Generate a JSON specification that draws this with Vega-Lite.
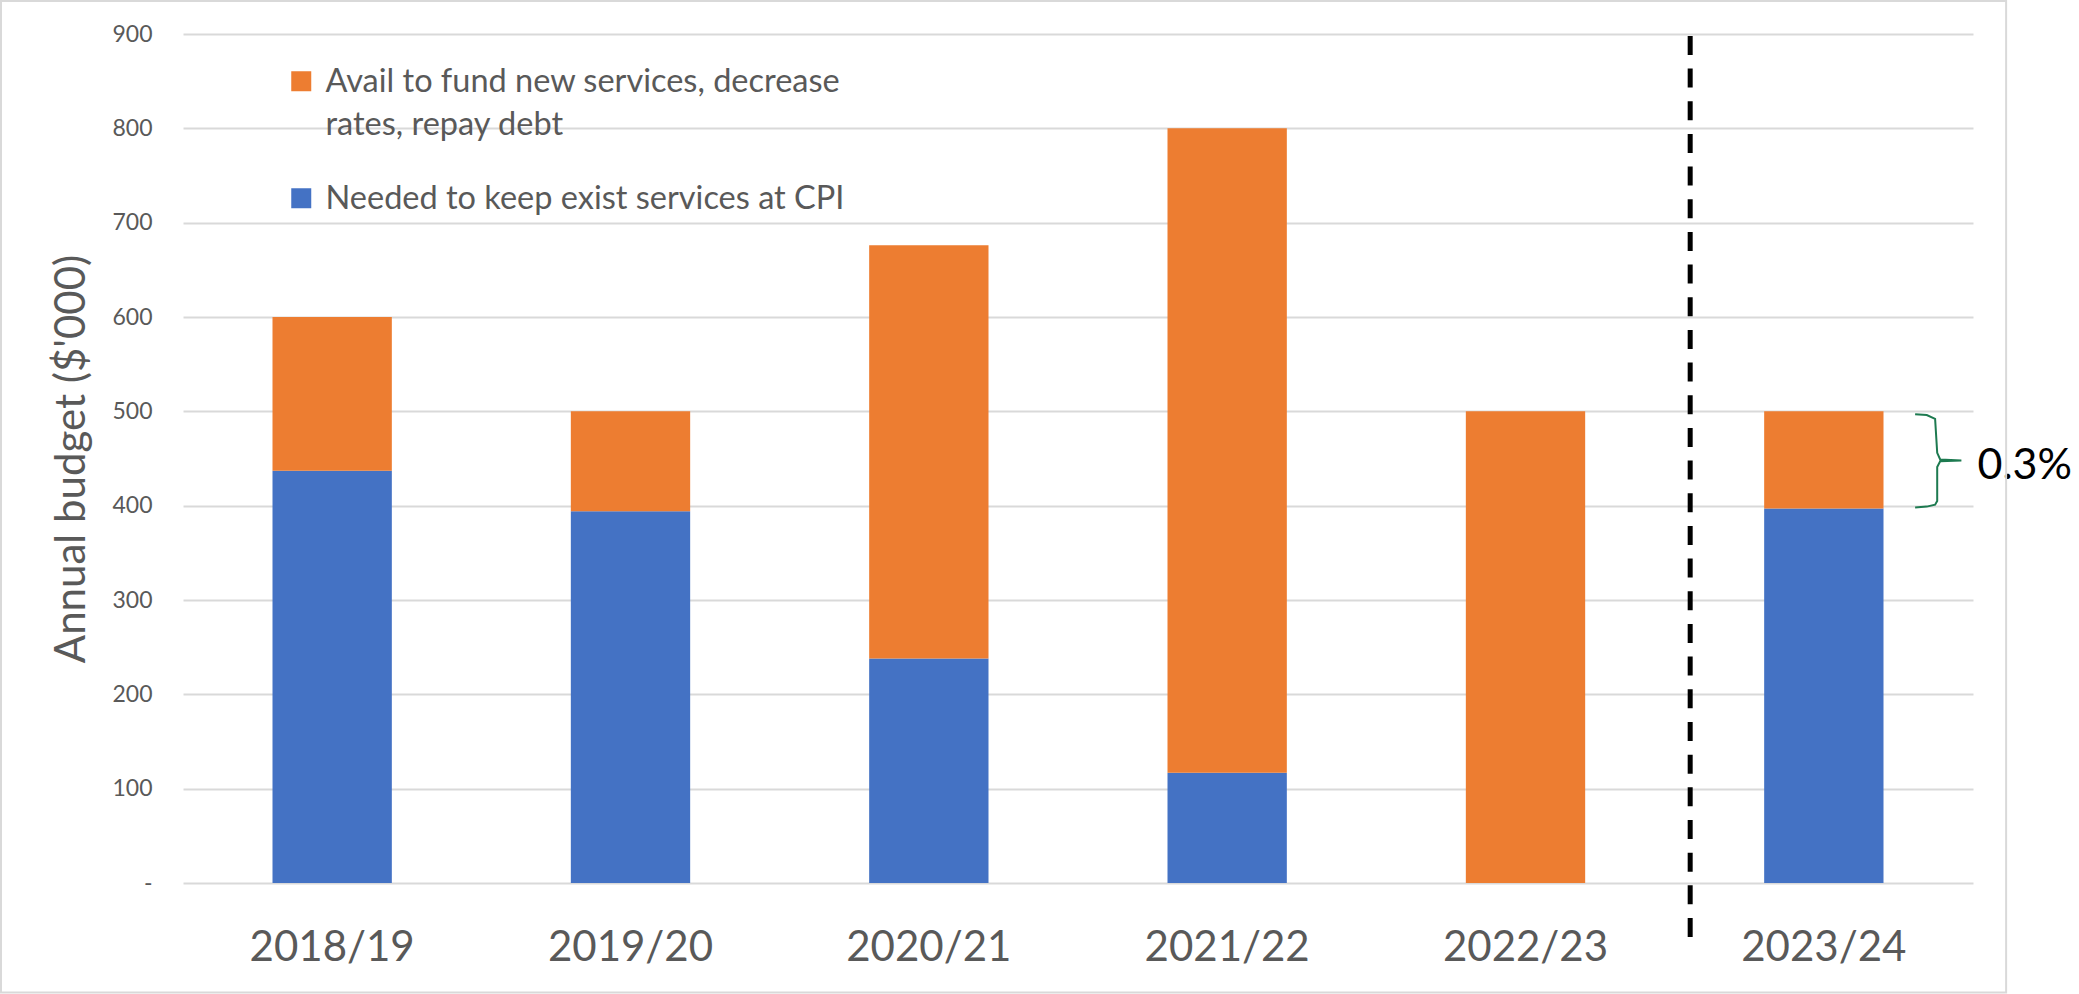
{
  "$schema": "https://vega.github.io/schema/vega-lite/v6.json",
  "width": 1790,
  "height": 849,
  "autosize": {"type": "none"},
  "padding": {"left": 183, "top": 34, "right": 106, "bottom": 111},
  "background": "white",
  "config": {"view": {"stroke": null}, "font": "Lato"},
  "datasets": {
    "budget": [
      {"year": "2018/19", "series": "Needed to keep exist services at CPI", "value": 437},
      {"year": "2018/19", "series": "Avail to fund new services, decrease rates, repay debt", "value": 163},
      {"year": "2019/20", "series": "Needed to keep exist services at CPI", "value": 394},
      {"year": "2019/20", "series": "Avail to fund new services, decrease rates, repay debt", "value": 106},
      {"year": "2020/21", "series": "Needed to keep exist services at CPI", "value": 238},
      {"year": "2020/21", "series": "Avail to fund new services, decrease rates, repay debt", "value": 438},
      {"year": "2021/22", "series": "Needed to keep exist services at CPI", "value": 117},
      {"year": "2021/22", "series": "Avail to fund new services, decrease rates, repay debt", "value": 683},
      {"year": "2022/23", "series": "Needed to keep exist services at CPI", "value": 0},
      {"year": "2022/23", "series": "Avail to fund new services, decrease rates, repay debt", "value": 500},
      {"year": "2023/24", "series": "Needed to keep exist services at CPI", "value": 397},
      {"year": "2023/24", "series": "Avail to fund new services, decrease rates, repay debt", "value": 103}
    ],
    "bracket": [
      {"i": 1, "bx": 5.806, "by": 497},
      {"i": 2, "bx": 5.845, "by": 496},
      {"i": 3, "bx": 5.873, "by": 492},
      {"i": 4, "bx": 5.880, "by": 456},
      {"i": 5, "bx": 5.890, "by": 449},
      {"i": 6, "bx": 5.961, "by": 448},
      {"i": 7, "bx": 5.890, "by": 447},
      {"i": 8, "bx": 5.880, "by": 441},
      {"i": 9, "bx": 5.880, "by": 405},
      {"i": 10, "bx": 5.873, "by": 401},
      {"i": 11, "bx": 5.845, "by": 399},
      {"i": 12, "bx": 5.806, "by": 398}
    ]
  },
  "layer": [
    {
      "data": {"name": "budget"},
      "mark": {"type": "bar"},
      "encoding": {
        "x": {
          "field": "year", "type": "nominal", "sort": null,
          "scale": {"paddingInner": 0.6, "paddingOuter": 0.3},
          "axis": {"title": null, "labelFont": "Lato", "labelFontSize": 42, "labelColor": "#595959", "labelPadding": 44, "ticks": false, "domain": false, "labelAngle": 0}
        },
        "y": {
          "field": "value", "type": "quantitative", "stack": "zero",
          "scale": {"domain": [0, 900], "nice": false},
          "axis": {
            "title": "Annual budget ($'000)",
            "values": [0, 100, 200, 300, 400, 500, 600, 700, 800, 900],
            "labelExpr": "datum.value == 0 ? '-   ' : datum.label",
            "labelFont": "Lato", "labelFontSize": 23, "labelColor": "#595959", "labelPadding": 31,
            "ticks": false, "domain": false, "grid": true, "gridColor": "#d9d9d9", "gridWidth": 2,
            "titleFont": "Lato", "titleFontSize": 42, "titleFontWeight": "normal", "titleColor": "#595959", "titlePadding": 18
          }
        },
        "color": {
          "field": "series", "type": "nominal",
          "scale": {"domain": ["Avail to fund new services, decrease rates, repay debt", "Needed to keep exist services at CPI"], "range": ["#ED7D31", "#4472C4"]},
          "legend": {
            "title": null, "orient": "none", "legendX": 102, "legendY": 31, "direction": "vertical", "padding": 0,
            "symbolType": "square", "symbolSize": 400, "symbolStrokeWidth": 0, "symbolOffset": 0,
            "labelFont": "Lato", "labelFontSize": 32.5, "labelColor": "#595959", "labelOffset": 8, "labelLimit": 1000,
            "rowPadding": 40, "labelBaseline": "alphabetic",
            "labelExpr": "datum.label == 'Avail to fund new services, decrease rates, repay debt' ? ['Avail to fund new services, decrease', 'rates, repay debt'] : datum.label",
            "encode": {"labels": {"update": {"dy": {"value": 11}, "lineHeight": {"value": 43}}}}
          }
        },
        "order": {"field": "series", "sort": "descending"}
      }
    },
    {
      "layer": [
        {
          "data": {"values": [{}]},
          "mark": {"type": "rule", "strokeDash": [19, 13.67], "strokeWidth": 5, "color": "black"},
          "encoding": {
            "x": {"datum": 5.052, "type": "quantitative", "scale": {"domain": [0, 6], "nice": false, "zero": false}, "axis": null},
            "y": {"datum": 898, "type": "quantitative"},
            "y2": {"datum": -58}
          }
        },
        {
          "data": {"name": "bracket"},
          "mark": {"type": "line", "color": "#1d7a50", "strokeWidth": 2},
          "encoding": {
            "x": {"field": "bx", "type": "quantitative", "axis": null},
            "y": {"field": "by", "type": "quantitative"},
            "order": {"field": "i"}
          }
        },
        {
          "data": {"values": [{"note": "0.3%"}]},
          "mark": {"type": "text", "align": "left", "baseline": "alphabetic", "fontSize": 43, "font": "Lato", "color": "black"},
          "encoding": {
            "x": {"datum": 6.015, "type": "quantitative", "axis": null},
            "y": {"datum": 428, "type": "quantitative"},
            "text": {"field": "note"}
          }
        },
        {
          "data": {"values": [{}]},
          "mark": {"type": "rect", "filled": false, "stroke": "#d9d9d9", "strokeWidth": 2},
          "encoding": {
            "x": {"datum": -0.61, "type": "quantitative", "axis": null},
            "x2": {"datum": 6.111},
            "y": {"datum": 935, "type": "quantitative"},
            "y2": {"datum": -116}
          }
        }
      ]
    }
  ],
  "resolve": {"scale": {"x": "independent"}}
}
